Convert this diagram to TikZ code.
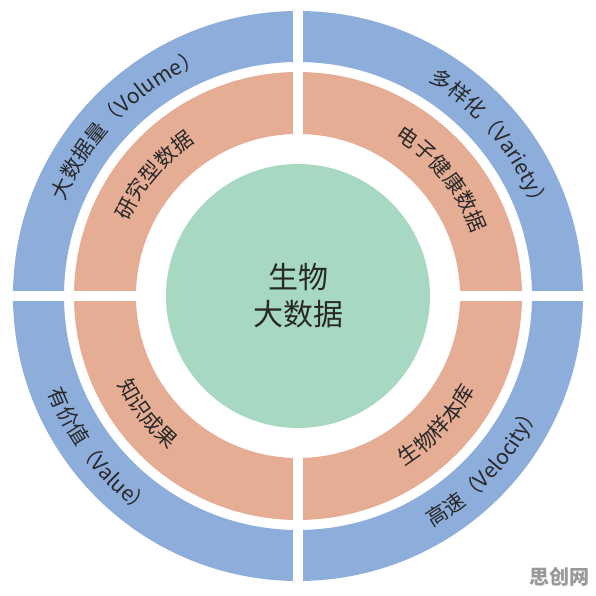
\documentclass[tikz,border=0pt]{standalone}
\usepackage{fontspec}
\setmainfont{Noto Sans CJK SC}
\usetikzlibrary{decorations.text}
\definecolor{ringblue}{RGB}{141,173,219}
\definecolor{ringorange}{RGB}{228,173,148}
\definecolor{coregreen}{RGB}{167,216,193}
\definecolor{inkgray}{RGB}{40,40,40}
\newcommand{\arcfont}{\fontsize{21}{24}\selectfont}
\tikzset{
	arclabel/.style={decorate, decoration={text along path, text align=center, text color=inkgray, text={|\arcfont|#1}}},
}
\begin{document}
\begin{tikzpicture}[x=1pt, y=1pt, declare function={rg=132;ri=162;ro=224;bi=234;bo=285;}]
	\useasboundingbox (-298,-300) rectangle (298,296);
	% rings
	\fill[ringblue, even odd rule] (0,0) circle[radius=bo] circle[radius=bi];
	\fill[ringorange, even odd rule] (0,0) circle[radius=ro] circle[radius=ri];
	\draw[white, line width=10pt] (-bo-3,0)--(bo+3,0) (0,-bo-3)--(0,bo+3);
	\fill[coregreen] (0,0) circle[radius=rg];
	\node[text=inkgray, align=center, font=\fontsize{30}{37}\selectfont] (core) at (0,0) {生物\\大数据};
	% outer ring
	\path[arclabel={大数据量（Volume）}] (180:251.5) arc[start angle=180, end angle=90, radius=251.5];
	\path[arclabel={多样化（Variety）}] (84:251.5) arc[start angle=84, end angle=-6, radius=251.5];
	\path[arclabel={高速（Velocity）}] (-87.5:267.5) arc[start angle=-87.5, end angle=2.5, radius=267.5];
	\path[arclabel={有价值（Value）}] (173:267.5) arc[start angle=173, end angle=263, radius=267.5];
	% inner ring
	\path[arclabel={研究型数据}] (185:185) arc[start angle=185, end angle=95, radius=185];
	\path[arclabel={电子健康数据}] (84:185) arc[start angle=84, end angle=-6, radius=185];
	\path[arclabel={生物样本库}] (-88:201) arc[start angle=-88, end angle=2, radius=201];
	\path[arclabel={知识成果}] (173:201) arc[start angle=173, end angle=263, radius=201];
	\node[text=black!40, font=\bfseries\fontsize{20}{22}\selectfont] (watermark) at (261,-281) {思创网};
\end{tikzpicture}
\end{document}
